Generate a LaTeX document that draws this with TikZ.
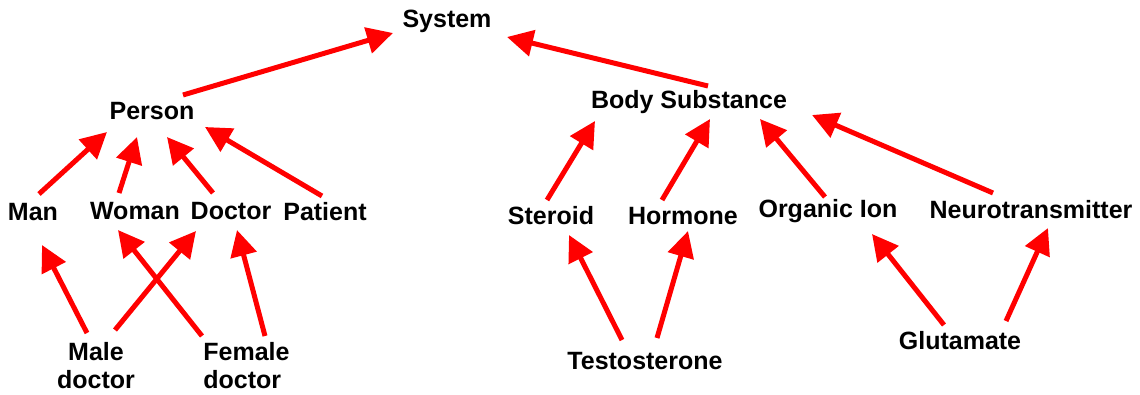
\documentclass[tikz,border=0pt]{standalone}
\usepackage{fontspec}
\setmainfont{Liberation Sans}
\usetikzlibrary{arrows.meta}
\newcommand\conn[4]{\draw[arr] ([shift={(#2)}]#1.center) -- ([shift={(#4)}]#3.center);}
\begin{document}
\begin{tikzpicture}[x=1pt,y=-1pt,
  lbl/.style={font=\fontsize{25}{28}\selectfont\bfseries, inner sep=0pt, align=center},
  arr/.style={draw=red, line width=5pt, -{Triangle[length=26pt,width=26pt]}}]
\useasboundingbox (0,0) rectangle (1140,395);
\node[lbl] (system) at (447,21) {System};
\node[lbl] (person) at (152,111) {Person};
\node[lbl] (man) at (33,212) {Man};
\node[lbl] (woman) at (135,211) {Woman};
\node[lbl] (doctor) at (231,211) {Doctor};
\node[lbl] (patient) at (325,212) {Patient};
\node[lbl] (maledoc) at (96,366) {Male\\doctor};
\node[lbl, align=left] (femaledoc) at (246.5,366) {Female\\doctor};
\node[lbl] (body) at (689,102) {Body Substance};
\node[lbl] (steroid) at (551,216) {Steroid};
\node[lbl] (hormone) at (683,216) {Hormone};
\node[lbl] (organic) at (828,211) {Organic Ion};
\node[lbl] (neuro) at (1031,210) {Neurotransmitter};
\node[lbl] (testo) at (645,361) {Testosterone};
\node[lbl] (gluta) at (960,341) {Glutamate};
\conn{person}{31,-16}{system}{-54,12}
\conn{body}{19,-16}{system}{60,16}
\conn{man}{6,-18}{person}{-45,21}
\conn{woman}{-16,-18}{person}{-15,26}
\conn{doctor}{-18,-18}{person}{15,26}
\conn{patient}{-3,-16}{person}{53,16}
\conn{maledoc}{-9,-33}{man}{9,33}
\conn{maledoc}{19,-36}{doctor}{-35,20}
\conn{femaledoc}{-44.5,-30}{woman}{-17,19}
\conn{femaledoc}{18.5,-30}{doctor}{6,19}
\conn{steroid}{-4,-16}{body}{-94,19}
\conn{hormone}{-21,-16}{body}{21,17}
\conn{organic}{-3,-14}{body}{71,17}
\conn{neuro}{-38,-17}{body}{123,13}
\conn{testo}{-23,-21}{steroid}{18,19}
\conn{testo}{12,-23}{hormone}{5,15}
\conn{gluta}{-16,-16}{organic}{44,23}
\conn{gluta}{46,-20}{neuro}{17,18}
\end{tikzpicture}
\end{document}
